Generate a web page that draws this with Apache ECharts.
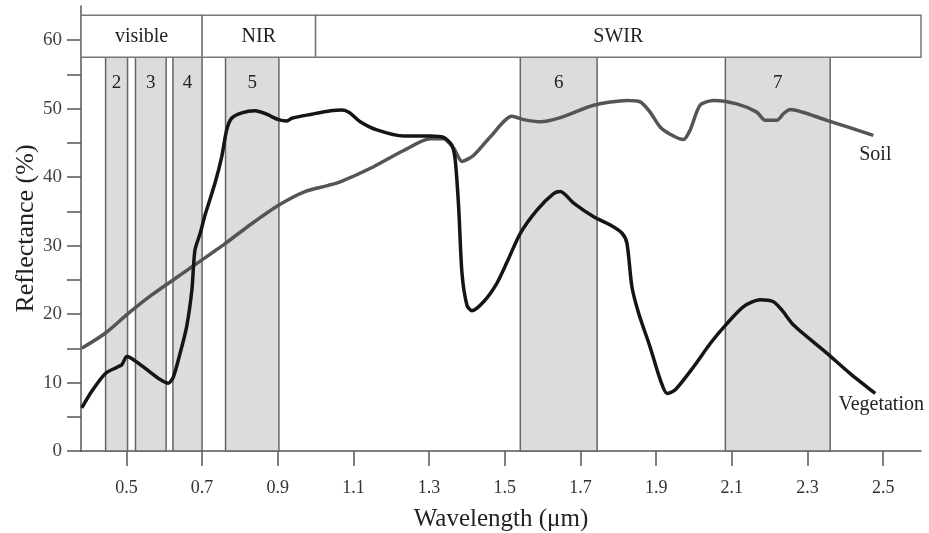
<!DOCTYPE html>
<html>
<head>
<meta charset="utf-8">
<script src="https://cdn.jsdelivr.net/npm/echarts@6/dist/echarts.min.js"></script>
<style>
html,body{margin:0;padding:0;background:#fff;}
#chart{width:929px;height:533px;}
</style>
</head>
<body>
<div id="chart"></div>
<script>
// Vegetation reflectance curve (wavelength µm, reflectance %)
var vegX = [0.382,0.408,0.444,0.474,0.488,0.501,0.514,0.549,0.585,0.611,0.624,0.642,0.659,0.673,0.681,0.695,0.708,0.734,0.752,0.765,0.778,0.805,0.840,0.866,0.902,0.924,0.937,0.990,1.040,1.070,1.090,1.118,1.162,1.233,1.303,1.338,1.360,1.369,1.378,1.387,1.400,1.413,1.444,1.479,1.506,1.541,1.585,1.629,1.647,1.682,1.735,1.779,1.810,1.823,1.836,1.854,1.884,1.911,1.929,1.950,1.999,2.043,2.087,2.131,2.175,2.210,2.232,2.263,2.351,2.413,2.479];
var vegY = [6.3,8.7,11.3,12.2,12.6,13.8,13.5,12.1,10.6,9.9,10.8,14.3,18.1,23.5,29.3,31.8,34.5,39.1,43.0,46.9,48.6,49.4,49.7,49.3,48.4,48.2,48.6,49.2,49.7,49.8,49.4,48.1,46.9,46.0,46.0,45.8,44.7,42.5,35.7,25.9,21.3,20.5,21.8,24.5,27.6,31.8,35.2,37.6,37.9,36.2,34.2,33.0,31.8,30.3,24.0,20.1,15.2,10.4,8.4,8.9,12.3,15.7,18.6,21.1,22.1,21.8,20.6,18.4,14.3,11.3,8.4];
// Soil reflectance curve
var soilX = [0.382,0.444,0.505,0.567,0.629,0.681,0.761,0.831,0.902,0.972,1.034,1.065,1.145,1.233,1.303,1.338,1.365,1.387,1.418,1.462,1.519,1.550,1.594,1.647,1.735,1.823,1.858,1.884,1.911,1.946,1.972,1.990,2.016,2.052,2.113,2.166,2.188,2.219,2.237,2.254,2.351,2.474];
var soilY = [15.0,17.2,20.1,22.8,25.2,27.2,30.3,33.2,35.9,37.9,38.8,39.3,41.3,43.9,45.6,45.6,44.2,42.3,43.2,45.9,48.9,48.4,48.1,48.7,50.5,51.2,51.0,49.5,47.3,46.0,45.5,46.9,50.5,51.2,50.7,49.5,48.3,48.3,49.3,49.9,48.3,46.1];
// Sensor bands
var bandNames = ['2','3','4','5','6','7'];
var bandStart = [0.445,0.524,0.623,0.762,1.541,2.083];
var bandEnd   = [0.503,0.605,0.700,0.903,1.744,2.360];
// Spectral regions
var regionNames = ['visible','NIR','SWIR'];
var regionStart = [0.38,0.70,1.00];
var regionEnd   = [0.70,1.00,2.60];
// Axis ticks
var xTicks = [0.5,0.7,0.9,1.1,1.3,1.5,1.7,1.9,2.1,2.3,2.5];
var yLabels = [0,10,20,30,40,50,60];
var yTicks = [0,5,10,15,20,25,30,35,40,45,50,55,60];
var seriesNames = ['Vegetation','Soil'];

var FONT = '"Liberation Serif", "DejaVu Serif", serif';
var bandTop = 57.5, regionTop = 63.65;

function pairs(xs, ys){
  return xs.map(function(x,i){ return [x, ys[i]]; });
}
function endMark(xs, ys, name, dist, off){
  var n = xs.length - 1;
  return {
    silent:true, symbol:'circle', symbolSize:0,
    label:{show:true, position:'bottom', distance:dist, offset:off, formatter:name, fontSize:20, color:'#222', fontFamily:FONT},
    data:[{coord:[xs[n], ys[n]]}]
  };
}

var bandAreas = bandNames.map(function(n,i){
  return [{name:n, xAxis:bandStart[i], yAxis:0}, {xAxis:bandEnd[i], yAxis:bandTop}];
});
var regionAreas = regionNames.map(function(n,i){
  return [{name:n, xAxis:regionStart[i], yAxis:bandTop}, {xAxis:regionEnd[i], yAxis:regionTop}];
});

var chart = echarts.init(document.getElementById('chart'));
chart.setOption({
  animation:false,
  backgroundColor:'#fff',
  grid:{left:81, right:8, top:6, bottom:82, containLabel:false, outerBoundsMode:'none'},
  xAxis:{
    type:'value', min:0.38, max:2.60,
    splitLine:{show:false},
    axisLine:{show:true, lineStyle:{color:'#555', width:1.5}},
    axisTick:{show:true, customValues:xTicks, length:15, lineStyle:{color:'#555', width:1.5}},
    axisLabel:{customValues:xTicks, formatter:function(v){return v.toFixed(1);}, margin:28, fontSize:18, color:'#333', fontFamily:FONT},
    name:'Wavelength (μm)', nameLocation:'middle', nameGap:56, nameMoveOverlap:false,
    nameTextStyle:{fontSize:25, color:'#222', fontFamily:FONT}
  },
  yAxis:{
    type:'value', min:0, max:65,
    splitLine:{show:false},
    axisLine:{show:true, lineStyle:{color:'#555', width:1.5}},
    axisTick:{show:true, customValues:yTicks, length:14, lineStyle:{color:'#555', width:1.5}},
    axisLabel:{customValues:yLabels, margin:19, fontSize:19, color:'#444', fontFamily:FONT},
    name:'Reflectance (%)', nameLocation:'middle', nameGap:42, nameMoveOverlap:false,
    nameTextStyle:{fontSize:26, color:'#222', fontFamily:FONT}
  },
  series:[
    {
      type:'line', name:'bands', data:[], z:1, silent:true,
      markArea:{
        silent:true,
        itemStyle:{color:'#dcdcdc', borderColor:'#666', borderWidth:1.5},
        label:{show:true, position:'insideTop', distance:17, fontSize:19, color:'#222', fontFamily:FONT},
        data:bandAreas
      }
    },
    {
      type:'line', name:'regions', data:[], z:1, silent:true,
      markArea:{
        silent:true,
        itemStyle:{color:'#fff', borderColor:'#777', borderWidth:1.5},
        label:{show:true, position:'inside', fontSize:20, color:'#222', fontFamily:FONT},
        data:regionAreas
      }
    },
    {
      type:'line', name:seriesNames[1], z:3,
      data:pairs(soilX, soilY),
      smooth:0.25, showSymbol:false, symbol:'none',
      lineStyle:{color:'#555', width:3.5},
      markPoint:endMark(soilX, soilY, seriesNames[1], 9, [2,0])
    },
    {
      type:'line', name:seriesNames[0], z:4,
      data:pairs(vegX, vegY),
      smooth:0.25, showSymbol:false, symbol:'none',
      lineStyle:{color:'#151515', width:3.5},
      markPoint:endMark(vegX, vegY, seriesNames[0], 1, [6,0])
    }
  ]
});
</script>
</body>
</html>
